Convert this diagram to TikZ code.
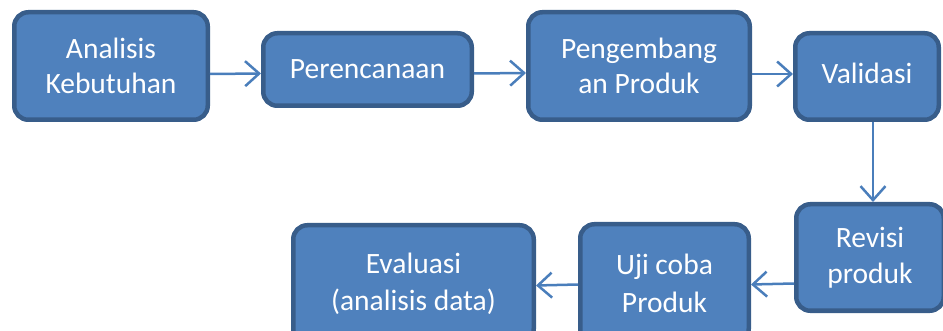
\documentclass[tikz,border=0pt]{standalone}
\usepackage{fontspec}
\setmainfont{Carlito}
\usetikzlibrary{arrows.meta}
\definecolor{boxfill}{HTML}{4F81BD}
\definecolor{boxborder}{HTML}{385D8A}
\definecolor{arrowcol}{HTML}{4A7EBB}
\begin{document}
\begin{tikzpicture}[x=1pt,y=-1pt,
  box/.style={draw=boxborder, fill=boxfill, line width=4.5pt, rounded corners=14pt,
    text=white, font=\fontsize{29.5}{35.5}\selectfont, align=center, inner sep=0pt},
  conn/.style={draw=arrowcol, line width=2.5pt,
    -{Straight Barb[length=14pt,width=25pt]}}]
\useasboundingbox (0,0) rectangle (943,331);
\clip (0,0) rectangle (943,331);
% top row
\node[box, minimum width=193.5pt, minimum height=107.5pt] (ak) at (111,66) {Analisis\\Kebutuhan};
\node[box, minimum width=208.5pt, minimum height=72.5pt] (pr) at (367.5,69.5) {Perencanaan};
\node[box, minimum width=221.5pt, minimum height=107.5pt] (pp) at (639,66) {Pengembang\\an Produk};
\node[box, minimum width=143.5pt, minimum height=86.5pt] (va) at (867,76.5) {\raisebox{6pt}{Validasi}};
% bottom row
\node[box, minimum width=147.5pt, minimum height=106.5pt] (rp) at (870,257.5) {Revisi\\produk};
\node[box, minimum width=168.5pt, minimum height=118.5pt] (uc) at (664.5,283.5) {\raisebox{2pt}{Uji coba}\\Produk};
\node[box, minimum width=240.5pt, minimum height=117.5pt] (ev) at (413.5,284) {\raisebox{2pt}{Evaluasi}\\(analisis data)};
% connectors
\draw[conn] ([yshift=-8pt]ak.east) -- ([yshift=-4pt]pr.west);
\draw[conn] ([yshift=-4pt]pr.east) -- ([yshift=-7pt]pp.west);
\draw[conn] ([yshift=-8pt]pp.east) -- ([yshift=2.5pt]va.west);
\draw[conn] ([xshift=6pt]va.south) -- ([xshift=3pt]rp.north);
\draw[conn] ([yshift=-26pt]rp.west) -- ([yshift=-1pt]uc.east);
\draw[conn] ([yshift=-1pt]uc.west) -- ([yshift=-1.5pt]ev.east);
\end{tikzpicture}
\end{document}
